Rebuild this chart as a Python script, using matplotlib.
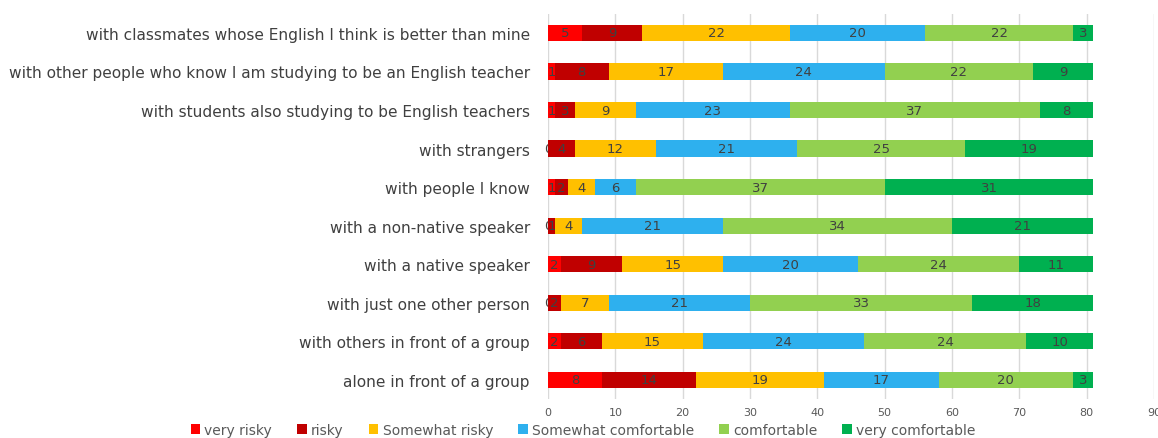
import matplotlib.pyplot as plt
import numpy as np

categories = [
    "with classmates whose English I think is better than mine",
    "with other people who know I am studying to be an English teacher",
    "with students also studying to be English teachers",
    "with strangers",
    "with people I know",
    "with a non-native speaker",
    "with a native speaker",
    "with just one other person",
    "with others in front of a group",
    "alone in front of a group",
]
series = ["very risky", "risky", "Somewhat risky", "Somewhat comfortable",
          "comfortable", "very comfortable"]
very_risky = [5, 1, 1, 0, 1, 0, 2, 0, 2, 8]
risky = [9, 8, 3, 4, 2, 1, 9, 2, 6, 14]
somewhat_risky = [22, 17, 9, 12, 4, 4, 15, 7, 15, 19]
somewhat_comf = [20, 24, 23, 21, 6, 21, 20, 21, 24, 17]
comfortable = [22, 22, 37, 25, 37, 34, 24, 33, 24, 20]
very_comf = [3, 9, 8, 19, 31, 21, 11, 18, 10, 3]
colors = ["#FF0000", "#C00000", "#FFC000", "#2EB0EE", "#92D050", "#00B050"]

values = [very_risky, risky, somewhat_risky, somewhat_comf, comfortable, very_comf]

fig = plt.figure(figsize=(11.58, 4.39), dpi=100)
ax = fig.add_axes([548/1158, 1 - 400/439, (1154 - 548)/1158, (400 - 14.7)/439])

y = np.arange(len(categories))
left = np.zeros(len(categories))
handles = []
for name, vals, c in zip(series, values, colors):
    bars = ax.barh(y, vals, left=left, height=0.42, color=c, label=name, zorder=3)
    ax.bar_label(bars, labels=[str(v) for v in vals], label_type='center',
                 color='#404040', fontsize=9.5)
    left += np.array(vals)
    handles.append(bars)

ax.set_xlim(0, 90)
ax.set_ylim(len(categories) - 0.5, -0.5)
ax.set_xticks(range(0, 91, 10))
ax.set_yticks(y)
ax.set_yticklabels(categories, fontsize=11.1, color='#404040')
ax.tick_params(axis='y', length=0, pad=13)
ax.tick_params(axis='x', length=0, labelsize=8, labelcolor='#595959', pad=6)
ax.grid(axis='x', color='#d9d9d9', linewidth=1, zorder=0)
for s in ax.spines.values():
    s.set_visible(False)

fig.legend(handles, series, loc='center', bbox_to_anchor=(583/1158, 1 - 431/439),
           ncol=6, frameon=False, fontsize=10, handlelength=0.7, handleheight=0.7,
           handletextpad=0.3, columnspacing=1.8, labelcolor='#595959')

fig.savefig("out.png", dpi=100)
